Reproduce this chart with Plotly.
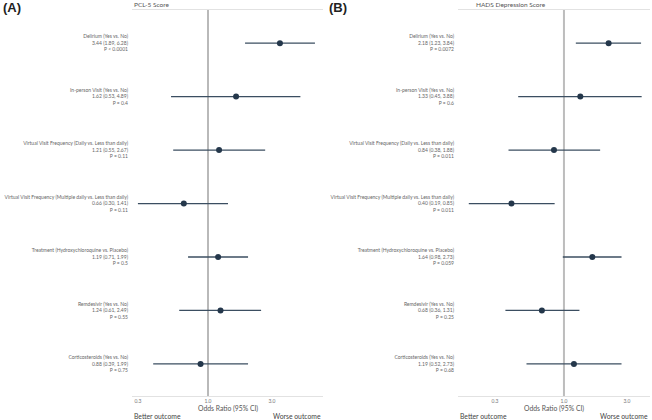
import plotly.graph_objects as go

# ---- data ----
labels_a = [
    "Delirium (Yes vs. No)",
    "In-person Visit (Yes vs. No)",
    "Virtual Visit Frequency (Daily vs. Less than daily)",
    "Virtual Visit Frequency (Multiple daily vs. Less than daily)",
    "Treatment (Hydroxychloroquine vs. Placebo)",
    "Remdesivir (Yes vs. No)",
    "Corticosteroids (Yes vs. No)",
]
or_a = [3.44, 1.62, 1.21, 0.66, 1.19, 1.24, 0.88]
lo_a = [1.89, 0.53, 0.55, 0.30, 0.71, 0.61, 0.39]
hi_a = [6.28, 4.89, 2.67, 1.41, 1.99, 2.49, 1.99]
p_a = ["P < 0.0001", "P = 0.4", "P = 0.11", "P = 0.11", "P = 0.5", "P = 0.55", "P = 0.75"]

or_b = [2.18, 1.33, 0.84, 0.40, 1.64, 0.68, 1.19]
lo_b = [1.23, 0.45, 0.38, 0.19, 0.98, 0.36, 0.52]
hi_b = [3.84, 3.88, 1.88, 0.85, 2.73, 1.31, 2.73]
p_b = ["P = 0.0072", "P = 0.6", "P = 0.011", "P = 0.011", "P = 0.059", "P = 0.25", "P = 0.68"]

tick_vals = [0.3, 1.0, 3.0]
tick_text = ["0.3", "1.0", "3.0"]

W, H = 652, 420
rows = list(range(1, len(labels_a) + 1))

def ticklabels(ors, los, his, ps):
    return [f"{l}<br>{o:.2f} ({lo:.2f}, {hi:.2f})<br>{p}"
            for l, o, lo, hi, p in zip(labels_a, ors, los, his, ps)]

fig = go.Figure()
MARK = "#24374b"
LINE = "#3b4e61"

for i, (ors, los, his) in enumerate([(or_a, lo_a, hi_a), (or_b, lo_b, hi_b)]):
    sfx = "" if i == 0 else "2"
    fig.add_trace(go.Scatter(
        x=ors, y=rows, mode="markers",
        marker=dict(color=MARK, size=6),
        error_x=dict(type="data", symmetric=False,
                     array=[h - o for h, o in zip(his, ors)],
                     arrayminus=[o - l for o, l in zip(ors, los)],
                     color=LINE, thickness=1.3, width=0),
        xaxis="x" + sfx, yaxis="y" + sfx, showlegend=False, hoverinfo="skip"))

y_dom = [24 / H, 410 / H]
axis_common = dict(type="log", showgrid=False, zeroline=False, showline=True,
                   linecolor="#e2e2e2", linewidth=1, mirror=True, automargin=False,
                   tickvals=tick_vals, ticktext=tick_text, ticks="",
                   tickfont=dict(family="Lato", size=5, color="#777"))
ycommon = dict(domain=y_dom, range=[7.6, 0.38], showgrid=False, zeroline=False,
               showline=False, automargin=False, tickvals=rows, ticks="",
               tickfont=dict(family="Lato", size=5, color="#666"), ticklabelstandoff=3)
fig.update_layout(
    width=W, height=H, margin=dict(l=0, r=0, t=0, b=0, autoexpand=False),
    paper_bgcolor="white", plot_bgcolor="white",
    font=dict(family="Lato", color="#555"),
    xaxis=dict(domain=[132 / W, 323 / W], range=[-0.567, 0.858], anchor="y", **axis_common),
    xaxis2=dict(domain=[458 / W, 650 / W], range=[-0.803, 0.652], anchor="y2", **axis_common),
    yaxis=dict(anchor="x", ticktext=ticklabels(or_a, lo_a, hi_a, p_a), **ycommon),
    yaxis2=dict(anchor="x2", ticktext=ticklabels(or_b, lo_b, hi_b, p_b), **ycommon),
)

# reference lines at OR = 1
fig.add_shape(type="line", xref="x", yref="y domain", x0=1, x1=1, y0=0, y1=1,
              line=dict(color="#8a8a8a", width=1.2), layer="below")
fig.add_shape(type="line", xref="x2", yref="y2 domain", x0=1, x1=1, y0=0, y1=1,
              line=dict(color="#bdbdbd", width=2), layer="below")

ann = []
def txt(x, y, s, size, color="#555", xanchor="left", bold=False, family="Lato"):
    ann.append(dict(x=x / W, y=1 - y / H, xref="paper", yref="paper", text=s, showarrow=False,
                    xanchor=xanchor, yanchor="middle",
                    font=dict(family=family, size=size, color=color,
                              weight="bold" if bold else "normal")))

txt(1, 7, "(A)", 13, "#222", bold=True, family="Liberation Sans")
txt(327, 7, "(B)", 13, "#222", bold=True, family="Liberation Sans")
txt(132, 5, "PCL-5 Score", 6.5, "#555")
txt(474, 5, "HADS Depression Score", 6.5, "#555")
for x0, x1 in [(132, 323), (458, 650)]:
    txt((x0 + x1) / 2, 408, "Odds Ratio (95% CI)", 6.8, "#555", xanchor="center")
    txt(x0, 416, "Better outcome", 6.8, "#444")
    txt(x1, 416, "Worse outcome", 6.8, "#444", xanchor="right")
fig.update_layout(annotations=ann)

fig.write_html("out.html", config={"displayModeBar": False},
               post_script="document.body.style.margin='0';document.body.style.overflow='hidden';")
